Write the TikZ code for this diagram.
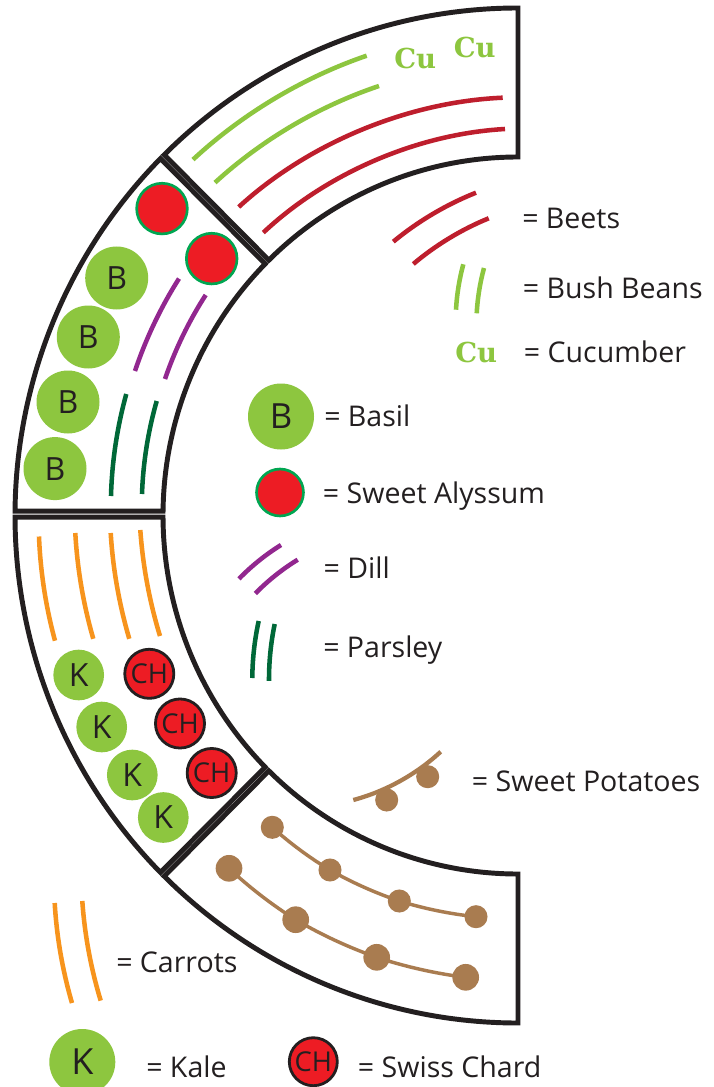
\documentclass[tikz,border=0pt]{standalone}
\usepackage{fontspec}
\setmainfont{Open Sans}
\newfontfamily\cufont{DejaVu Serif}
\definecolor{ink}{HTML}{231F20}
\definecolor{leaf}{HTML}{8DC63F}
\definecolor{bloom}{HTML}{ED1C24}
\definecolor{rim}{HTML}{00A651}
\definecolor{carrot}{HTML}{F7941D}
\definecolor{beet}{HTML}{BE1E2D}
\definecolor{dill}{HTML}{92278F}
\definecolor{parsley}{HTML}{006838}
\definecolor{potato}{HTML}{A97C50}
\newcommand{\rowarc}[4]{\draw[plantline,#1] (#2) to[bend right=#4,looseness=0.85] (#3);}
\tikzset{
  plantline/.style={line width=3.4pt},
  bedline/.style={draw=ink,line width=3.7pt,miter limit=10,line join=miter},
  lab/.style={anchor=base west,inner sep=0pt,text=ink,font=\fontsize{21.4}{26}\selectfont},
  cu/.style={anchor=base west,inner sep=0pt,text=leaf,font=\cufont\bfseries\fontsize{20.6}{24}\selectfont},
  bas/.style={circle,fill=leaf,inner sep=0pt,minimum size=47.25pt,text=ink,font=\fontsize{24}{30}\selectfont},
  basbig/.style={bas,minimum size=49.5pt,font=\fontsize{26}{32}\selectfont},
  aly/.style={circle,fill=bloom,draw=rim,line width=2pt,inner sep=0pt,minimum size=38pt},
  kal/.style={circle,fill=leaf,inner sep=0pt,minimum size=38pt,text=ink,font=\fontsize{24}{30}\selectfont},
  kalbig/.style={kal,minimum size=49.5pt,font=\fontsize{27}{32}\selectfont},
  cha/.style={circle,fill=bloom,draw=ink,line width=2.1pt,inner sep=0pt,minimum size=36.8pt,text=ink,font=\fontsize{20.5}{26}\selectfont},
  pot/.style={circle,fill=potato,inner sep=0pt,minimum size=17.3pt},
  potbig/.style={pot,minimum size=20pt}
}
\begin{document}
\begin{tikzpicture}[x=1pt,y=1pt,xscale=0.75,yscale=-0.75]
\fill[white] (0,0) rectangle (713,1087);
\useasboundingbox (0,0) rectangle (713,1087);

% beds
\begin{scope}[shift={(518,515.5)}]
\draw[bedline] (0,-507.5) -- (0,-358.5) arc[start angle=270,end angle=225.42,x radius=355pt,y radius=358.5pt]
  -- (225.3:503 and 507.5) arc[start angle=225.3,end angle=270,x radius=503pt,y radius=507.5pt] -- cycle;
\draw[bedline] (224.7:503 and 507.5) arc[start angle=224.7,end angle=180.5,x radius=503pt,y radius=507.5pt]
  -- (180.7:355 and 358.5) arc[start angle=180.7,end angle=224.58,x radius=355pt,y radius=358.5pt] -- cycle;
\draw[bedline] (179.82:503 and 507.5) arc[start angle=179.82,end angle=135.3,x radius=503pt,y radius=507.5pt]
  -- (135.42:355 and 358.5) arc[start angle=135.42,end angle=179.75,x radius=355pt,y radius=358.5pt] -- cycle;
\draw[bedline] (134.7:503 and 507.5) arc[start angle=134.7,end angle=90,x radius=503pt,y radius=507.5pt]
  -- (0,358.5) arc[start angle=90,end angle=134.58,x radius=355pt,y radius=358.5pt] -- cycle;
\end{scope}

% top bed rows
\rowarc{leaf}{193,159.6}{366.7,55.7}{12}
\rowarc{leaf}{215,182.6}{379,86}{12}
\rowarc{beet}{238.7,207}{502.7,97.7}{20}
\rowarc{beet}{263.3,232.6}{505,129}{20}
\node[cu] (cu1) at (394,68.3) {Cu};
\node[cu] (cu2) at (453.5,57.3) {Cu};

% upper left bed
\rowarc{dill}{135,371}{179,278.6}{7}
\rowarc{dill}{165,379}{205.7,295}{7}
\rowarc{parsley}{111,496}{126.3,394}{7}
\rowarc{parsley}{142,494}{156.7,401}{7}
\node[aly] (a1) at (162,208.6) {};
\node[aly] (a2) at (211.7,258.6) {};
\node[bas] (b1) at (116.7,278) {B};
\node[bas] (b2) at (88.3,337) {B};
\node[bas] (b3) at (68,402) {B};
\node[bas] (b4) at (55,468.6) {B};

% lower left bed
\rowarc{carrot}{55,640.7}{39,536.5}{6.5}
\rowarc{carrot}{93.3,638.8}{75.3,533}{6.5}
\rowarc{carrot}{129.3,638.8}{110.7,533}{6.5}
\rowarc{carrot}{160,636}{140.3,530}{6.5}
\node[kal] (k1) at (78.7,675) {K};
\node[kal] (k2) at (101.7,727) {K};
\node[kal] (k3) at (132.3,775) {K};
\node[kal] (k4) at (163.3,817.5) {K};
\node[cha] (c1) at (149.3,673.8) {CH};
\node[cha] (c2) at (180,723.5) {CH};
\node[cha] (c3) at (211.7,773) {CH};

% bottom bed
\node[pot] (p1) at (272.3,827.3) {};
\node[pot] (p2) at (330,870) {};
\node[pot] (p3) at (399.3,901) {};
\node[pot] (p4) at (476,916.7) {};
\node[potbig] (q1) at (229,868.3) {};
\node[potbig] (q2) at (295.7,919.7) {};
\node[potbig] (q3) at (376.7,957.3) {};
\node[potbig] (q4) at (465.7,977.3) {};
\begin{scope}[every to/.style={bend right=5.5,looseness=0.85}]
\draw[potato,line width=2.6pt] (p4.center) to (p3.center) to (p2.center) to (p1.center);
\draw[potato,line width=2.6pt] (q4.center) to (q3.center) to (q2.center) to (q1.center);
\end{scope}

% legend right
\rowarc{beet}{393.3,241.7}{476,192.7}{9}
\rowarc{beet}{413.3,264}{488.7,218.3}{9}
\node[lab] (l1) at (522,229) {= Beets};
\rowarc{leaf}{456,309.7}{463.3,264.3}{6}
\rowarc{leaf}{476.7,313.3}{484,268}{6}
\node[lab] (l2) at (522.7,298) {= Bush Beans};
\node[cu] (cu3) at (455,362) {Cu};
\node[lab] (l3) at (523.7,362) {= Cucumber};

% legend centre
\node[basbig] (lb) at (281,416.5) {B};
\node[lab] (l4) at (324,426) {= Basil};
\node[aly,minimum size=35.2pt] (la) at (280,492.5) {};
\node[lab] (l5) at (322.7,503) {= Sweet Alyssum};
\rowarc{dill}{239,578.8}{281,545}{7}
\rowarc{dill}{255.3,593.5}{297.7,559.7}{7}
\node[lab] (l6) at (323.3,578) {= Dill};
\rowarc{parsley}{252.3,678}{258.7,621}{6}
\rowarc{parsley}{269,680.8}{274.7,624}{6}
\node[lab] (l7) at (323,657.5) {= Parsley};

% legend potatoes
\node[pot] (lp1) at (386.7,800) {};
\node[pot] (lp2) at (427.7,776.7) {};
\draw[potato,line width=3.2pt] (440.7,751.7) to[bend right=14,looseness=0.85] (353.3,800);
\node[lab] (l8) at (471.7,791.7) {= Sweet Potatoes};

% legend bottom
\rowarc{carrot}{72,1003}{54.7,903}{6.5}
\rowarc{carrot}{100.7,1000.6}{82.3,901}{6.5}
\node[lab] (l9) at (116,972) {= Carrots};
\node[kalbig] (lk) at (82.3,1062) {K};
\node[lab] (l10) at (146,1077) {= Kale};
\node[cha,minimum size=36pt] (lc) at (313.3,1061.7) {CH};
\node[lab] (l11) at (357.7,1077) {= Swiss Chard};
\end{tikzpicture}
\end{document}
